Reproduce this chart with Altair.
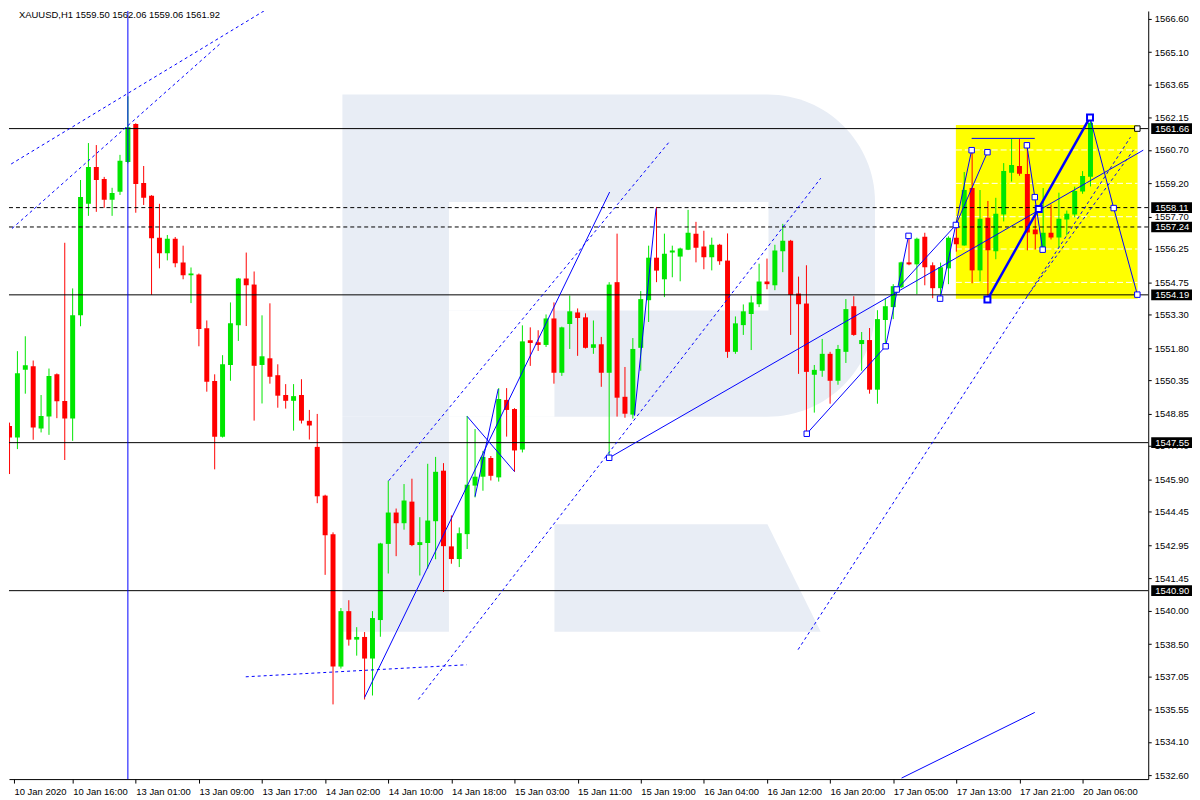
import altair as alt
import pandas as pd

FONT = "Liberation Sans"
FS = 9.5
W, H = 1145, 772
X_MIN, X_MAX = 0.5625, 143.6875
Y_MIN, Y_MAX = 1532.434, 1566.944

# ---------------- candle data (XAUUSD H1) ----------------
opens = [1548.30, 1547.78, 1550.82, 1550.98, 1548.19, 1548.72, 1550.62, 1549.42, 1548.63, 1553.27,
         1558.28, 1559.94, 1559.40, 1558.46, 1558.82, 1560.16, 1561.87, 1559.22, 1558.64, 1556.76,
         1556.06, 1556.71, 1555.64, 1555.07, 1555.10, 1552.69, 1550.32, 1547.82, 1551.04, 1552.83,
         1554.92, 1554.65, 1551.04, 1551.34, 1550.58, 1549.69, 1549.43, 1549.69, 1548.53, 1547.36,
         1545.17, 1543.43, 1537.49, 1539.98, 1538.70, 1538.82, 1537.85, 1539.58, 1543.00, 1544.41,
         1543.93, 1544.90, 1542.95, 1543.04, 1544.02, 1546.29, 1542.89, 1542.32, 1543.44, 1545.62,
         1546.02, 1546.86, 1545.99, 1549.47, 1549.06, 1547.24, 1552.15, 1552.06, 1551.94, 1553.13,
         1550.69, 1552.88, 1553.40, 1553.18, 1551.81, 1551.97, 1550.69, 1554.76, 1549.61, 1548.81,
         1551.81, 1553.95, 1555.86, 1554.89, 1556.09, 1555.91, 1556.22, 1556.94, 1556.36, 1555.88,
         1556.44, 1555.73, 1551.63, 1552.83, 1553.33, 1553.77, 1554.79, 1554.62, 1556.15, 1556.62,
         1554.25, 1553.80, 1550.60, 1550.78, 1551.54, 1550.33, 1551.63, 1553.68, 1551.98, 1552.16,
         1549.93, 1553.06, 1553.64, 1554.53, 1555.65, 1555.56, 1556.80, 1555.52, 1554.49, 1555.38,
         1556.76, 1556.41, 1558.99, 1555.29, 1557.65, 1556.15, 1557.80, 1559.68, 1559.98, 1559.62,
         1557.13, 1556.19, 1556.98, 1556.77, 1557.58, 1557.80, 1558.83, 1559.50]
highs = [1548.45, 1551.66, 1552.33, 1551.24, 1549.69, 1550.88, 1550.66, 1556.53, 1554.48, 1559.35,
         1561.01, 1560.92, 1559.49, 1559.00, 1560.48, 1563.11, 1561.90, 1559.98, 1558.67, 1558.28,
         1556.88, 1556.79, 1556.40, 1555.42, 1555.15, 1553.04, 1550.62, 1551.48, 1553.85, 1554.95,
         1556.09, 1555.24, 1553.27, 1553.81, 1551.07, 1550.18, 1550.18, 1550.40, 1549.02, 1548.84,
         1545.21, 1543.52, 1540.12, 1540.47, 1539.26, 1539.04, 1539.98, 1543.05, 1545.84, 1544.59,
         1545.69, 1545.93, 1544.20, 1546.60, 1546.91, 1546.63, 1544.28, 1543.74, 1548.75, 1548.16,
         1547.18, 1546.95, 1550.00, 1550.00, 1549.10, 1552.82, 1552.73, 1552.60, 1553.31, 1553.85,
         1552.76, 1554.16, 1553.58, 1553.36, 1553.04, 1552.30, 1554.76, 1556.94, 1550.95, 1552.25,
         1554.36, 1556.40, 1558.14, 1556.94, 1556.40, 1556.31, 1558.01, 1557.47, 1557.07, 1556.76,
         1556.48, 1556.95, 1553.22, 1553.76, 1554.16, 1555.59, 1555.82, 1556.44, 1557.38, 1556.66,
         1555.01, 1555.52, 1551.04, 1552.21, 1551.63, 1551.94, 1554.00, 1554.13, 1552.52, 1552.70,
         1553.50, 1554.04, 1554.67, 1555.68, 1556.94, 1556.76, 1556.98, 1555.65, 1555.64, 1556.82,
         1557.33, 1559.71, 1560.68, 1558.90, 1558.41, 1558.55, 1560.11, 1561.19, 1561.19, 1560.96,
         1557.89, 1558.99, 1558.25, 1558.78, 1557.98, 1559.05, 1559.75, 1562.06]
lows = [1546.14, 1547.26, 1549.75, 1547.68, 1548.01, 1547.90, 1548.65, 1546.77, 1547.63, 1552.78,
        1557.74, 1557.92, 1558.10, 1557.74, 1558.68, 1560.10, 1557.88, 1558.23, 1554.19, 1555.38,
        1555.74, 1555.43, 1554.89, 1553.82, 1551.88, 1549.84, 1546.35, 1547.78, 1550.33, 1552.12,
        1552.79, 1548.54, 1549.31, 1550.20, 1549.12, 1549.08, 1548.09, 1548.41, 1547.69, 1544.83,
        1541.61, 1535.79, 1537.40, 1538.43, 1537.98, 1536.01, 1536.19, 1538.83, 1541.67, 1542.45,
        1543.64, 1542.90, 1541.58, 1541.89, 1542.31, 1540.84, 1542.11, 1541.96, 1542.77, 1545.09,
        1545.39, 1545.85, 1545.80, 1547.82, 1546.24, 1547.11, 1551.00, 1551.67, 1551.85, 1550.20,
        1550.55, 1551.76, 1551.45, 1551.78, 1551.54, 1550.06, 1546.88, 1548.72, 1548.67, 1548.63,
        1550.78, 1552.97, 1554.76, 1554.09, 1554.98, 1554.80, 1556.20, 1555.65, 1555.34, 1555.29,
        1555.54, 1551.36, 1551.54, 1552.39, 1551.71, 1553.64, 1554.44, 1554.40, 1555.21, 1552.39,
        1550.64, 1547.96, 1548.90, 1550.51, 1549.30, 1550.15, 1551.13, 1552.35, 1550.78, 1549.75,
        1549.30, 1551.89, 1553.10, 1554.49, 1555.52, 1554.22, 1554.62, 1554.04, 1554.04, 1554.67,
        1556.13, 1556.40, 1554.71, 1554.80, 1554.00, 1555.79, 1557.49, 1559.28, 1559.54, 1556.19,
        1556.23, 1556.15, 1556.68, 1556.32, 1556.86, 1557.67, 1558.73, 1559.06]
closes = [1547.78, 1550.67, 1551.03, 1548.23, 1548.75, 1550.54, 1549.41, 1548.63, 1553.27, 1558.59,
          1559.94, 1559.35, 1558.46, 1558.77, 1560.21, 1561.72, 1559.17, 1558.55, 1556.73, 1556.06,
          1556.71, 1555.61, 1555.07, 1555.15, 1552.66, 1550.29, 1547.82, 1551.07, 1552.91, 1554.92,
          1554.62, 1551.00, 1551.43, 1550.51, 1549.66, 1549.43, 1549.64, 1548.54, 1548.32, 1545.14,
          1543.39, 1537.49, 1539.98, 1538.70, 1538.82, 1537.85, 1539.67, 1543.02, 1544.41, 1543.93,
          1544.95, 1542.95, 1543.08, 1544.05, 1546.24, 1542.90, 1542.32, 1543.48, 1545.66, 1546.02,
          1546.91, 1546.06, 1549.51, 1549.02, 1547.20, 1552.10, 1552.03, 1551.94, 1553.13, 1550.69,
          1552.73, 1553.45, 1553.15, 1551.81, 1551.97, 1550.69, 1554.65, 1549.57, 1548.85, 1551.76,
          1554.00, 1555.86, 1555.28, 1556.04, 1556.18, 1556.27, 1556.98, 1556.31, 1555.88, 1556.44,
          1555.70, 1551.63, 1552.91, 1553.45, 1553.85, 1554.79, 1554.67, 1556.18, 1556.62, 1554.19,
          1553.77, 1550.73, 1550.82, 1551.54, 1550.33, 1551.76, 1553.55, 1552.39, 1552.16, 1549.93,
          1553.10, 1553.68, 1554.58, 1555.65, 1555.56, 1556.71, 1555.43, 1554.49, 1555.43, 1556.76,
          1556.46, 1558.90, 1555.29, 1557.61, 1556.19, 1557.83, 1559.75, 1560.02, 1559.63, 1556.99,
          1556.91, 1556.98, 1556.77, 1557.61, 1557.83, 1558.86, 1559.53, 1561.92]

# ---------------- axes ----------------
x_tick_bars = [0, 8, 16, 24, 32, 40, 48, 56, 64, 72, 80, 88, 96, 104, 112, 120, 128, 136]
x_tick_labels = ["10 Jan 2020", "10 Jan 16:00", "13 Jan 01:00", "13 Jan 09:00", "13 Jan 17:00",
                 "14 Jan 02:00", "14 Jan 10:00", "14 Jan 18:00", "15 Jan 03:00", "15 Jan 11:00",
                 "15 Jan 19:00", "16 Jan 04:00", "16 Jan 12:00", "16 Jan 20:00", "17 Jan 05:00",
                 "17 Jan 13:00", "17 Jan 21:00", "20 Jan 06:00"]
y_tick_values = [1566.60, 1565.10, 1563.65, 1562.15, 1560.70, 1559.20, 1557.70, 1556.25, 1554.75,
                 1553.30, 1551.80, 1550.35, 1548.85, 1547.40, 1545.90, 1544.45, 1542.95, 1541.45,
                 1540.00, 1538.50, 1537.05, 1535.55, 1534.10, 1532.60]

# ---------------- drawn objects ----------------
solid_levels = [1561.66, 1554.19, 1547.55, 1540.90]
dashed_levels = [1558.11, 1557.24]
tag_levels = [1561.66, 1558.11, 1557.24, 1554.19, 1547.55, 1540.90]
yellow_box = {"i0": 119.94, "i1": 142.97, "p0": 1554.01, "p1": 1561.82}
vertical_bar = 15

dashed_lines = [
    [(-0.44, 1559.93), (33.06, 1567.12)],
    [(0.31, 1557.17), (26.81, 1565.51)],
    [(29.94, 1537.03), (57.94, 1537.57)],
    [(48.06, 1545.84), (83.56, 1561.04)],
    [(51.81, 1536.01), (102.81, 1559.43)],
    [(99.94, 1538.25), (142.06, 1561.27)],
    [(128.94, 1554.11), (142.44, 1560.69)],
]
solid_lines = [
    [(45.0, 1536.10), (76.06, 1558.81)],
    [(76.0, 1546.87), (143.69, 1560.69)],
    [(58.0, 1548.73), (64.0, 1546.25)],
    [(59.0, 1545.13), (61.94, 1549.96)],
    [(79.19, 1548.76), (81.94, 1558.07)],
    [(101.04, 1547.95), (111.04, 1551.88), (113.94, 1556.84)],
    [(112.44, 1554.43), (119.94, 1557.33), (123.94, 1560.60)],
    [(117.94, 1554.02), (121.94, 1560.69)],
    [(121.94, 1561.22), (129.94, 1561.22)],
    [(128.94, 1560.91), (129.94, 1558.58), (130.94, 1556.22)],
    [(136.94, 1562.16), (139.94, 1558.09), (142.94, 1554.20)],
    [(113.06, 1532.48), (129.94, 1535.43)],
]
thick_lines = [
    [(123.94, 1553.98), (136.94, 1562.16)],
]
square_points = [(76.0, 1546.87), (101.04, 1547.95), (111.04, 1551.88), (113.94, 1556.84),
                 (112.44, 1554.43), (117.94, 1554.02), (119.94, 1557.33), (121.94, 1560.69),
                 (123.94, 1560.60), (128.94, 1560.91), (129.94, 1558.58), (130.94, 1556.22),
                 (139.94, 1558.09), (142.94, 1554.20)]
thick_square_points = [(123.94, 1553.98), (130.44, 1558.05), (136.94, 1562.16)]
black_square_points = [(142.94, 1561.66)]

# background watermark ("R") pieces, in bar / price units
wm_bowl = {"i0": 42.19, "i1": 109.69, "p0": 1548.71, "p1": 1563.19}
wm_holes = [{"i0": 55.69, "i1": 96.19, "p0": 1553.49, "p1": 1558.36},
            {"i0": 55.69, "i1": 69.06, "p0": 1548.71, "p1": 1553.49}]
wm_stem = {"i0": 42.19, "i1": 55.69, "p0": 1539.05, "p1": 1548.71}
wm_leg_i = [69.06, 96.06, 102.81]
wm_leg_top = [1543.88, 1543.88, 1539.05]
wm_leg_bottom = 1539.05

header = "XAUUSD,H1  1559.50 1562.06 1559.06 1561.92"

# ---------------- build ----------------
GREEN = "#00E600"
RED = "#FF0000"
BLUE = "#0000FF"
WM = "#E8EDF5"

xs = alt.Scale(domain=[X_MIN, X_MAX], nice=False, zero=False)
ys = alt.Scale(domain=[Y_MIN, Y_MAX], nice=False, zero=False)

label_arr = "[" + ",".join("'" + s + "'" for s in x_tick_labels) + "]"
x_axis = alt.Axis(orient="bottom", title=None, grid=False,
                  values=[max(v, X_MIN) for v in x_tick_bars],
                  labelExpr=label_arr + "[round(datum.value/8)]",
                  labelAlign="left", labelBaseline="top", labelPadding=3, labelFlush=False,
                  labelOverlap=False, tickSize=4, tickColor="black", domainColor="black",
                  labelColor="black", labelFont=FONT, labelFontSize=FS)
y_axis = alt.Axis(orient="right", title=None, grid=False, values=y_tick_values, format=".2f",
                  labelPadding=3, labelOverlap=False, labelFlush=False, tickSize=3,
                  tickColor="black", domainColor="black", labelColor="black",
                  labelFont=FONT, labelFontSize=FS)


def X(f):
    return alt.X(f + ":Q", scale=xs, axis=x_axis)


def Y(f):
    return alt.Y(f + ":Q", scale=ys, axis=y_axis)


candles = pd.DataFrame({"i": list(range(len(opens))), "o": opens, "h": highs, "l": lows, "c": closes})
candles["dir"] = ["up" if c > o else "down" for o, c in zip(opens, closes)]
col = alt.Color("dir:N", scale=alt.Scale(domain=["up", "down"], range=[GREEN, RED]), legend=None)

wicks = alt.Chart(candles).mark_rule(strokeWidth=1, clip=True).encode(
    x=X("i"), y=Y("l"), y2="h", color=col)
bodies = alt.Chart(candles).mark_bar(size=5, clip=True).encode(
    x=X("i"), y=Y("o"), y2="c", color=col)

bowl = alt.Chart(pd.DataFrame([wm_bowl])).mark_rect(
    color=WM, clip=True, cornerRadiusTopRight=108, cornerRadiusBottomRight=108).encode(
    x=X("i0"), x2="i1", y=Y("p0"), y2="p1")
holes = alt.Chart(pd.DataFrame(wm_holes)).mark_rect(color="white", clip=True).encode(
    x=X("i0"), x2="i1", y=Y("p0"), y2="p1")
stem = alt.Chart(pd.DataFrame([wm_stem])).mark_rect(color=WM, clip=True).encode(
    x=X("i0"), x2="i1", y=Y("p0"), y2="p1")
leg = alt.Chart(pd.DataFrame({"i": wm_leg_i, "t": wm_leg_top,
                              "b": [wm_leg_bottom] * len(wm_leg_i)})).mark_area(
    color=WM, clip=True, opacity=1).encode(x=X("i"), y=Y("t"), y2="b")

yellow = alt.Chart(pd.DataFrame([yellow_box])).mark_rect(color="#FFFF00", clip=True).encode(
    x=X("i0"), x2="i1", y=Y("p0"), y2="p1")
grid_vals = [v for v in y_tick_values if yellow_box["p0"] < v < yellow_box["p1"]]
ygrid = alt.Chart(pd.DataFrame({"p": grid_vals, "i0": yellow_box["i0"], "i1": yellow_box["i1"]})).mark_rule(
    color="white", strokeDash=[6, 3], strokeWidth=1, clip=True).encode(
    x=X("i0"), x2="i1", y=Y("p"))

hsolid = alt.Chart(pd.DataFrame({"p": solid_levels})).mark_rule(
    color="black", strokeWidth=1).encode(y=Y("p"))
hdash = alt.Chart(pd.DataFrame({"p": dashed_levels})).mark_rule(
    color="black", strokeWidth=1, strokeDash=[4, 3]).encode(y=Y("p"))
vline = alt.Chart(pd.DataFrame({"i": [vertical_bar]})).mark_rule(
    color=BLUE, strokeWidth=1).encode(x=X("i"))


def lines_df(lines):
    rows = []
    for n, pts in enumerate(lines):
        for j, (a, b) in enumerate(pts):
            rows.append({"id": n, "ord": j, "i": a, "p": b})
    return pd.DataFrame(rows)


ldash = alt.Chart(lines_df(dashed_lines)).mark_line(
    color=BLUE, strokeWidth=1, strokeDash=[3, 3], clip=True).encode(
    x=X("i"), y=Y("p"), detail="id:N", order="ord:Q")
lsolid = alt.Chart(lines_df(solid_lines)).mark_line(
    color=BLUE, strokeWidth=1, clip=True).encode(
    x=X("i"), y=Y("p"), detail="id:N", order="ord:Q")
lthick = alt.Chart(lines_df(thick_lines)).mark_line(
    color=BLUE, strokeWidth=2.5, clip=True).encode(
    x=X("i"), y=Y("p"), detail="id:N", order="ord:Q")

sq = alt.Chart(pd.DataFrame(square_points, columns=["i", "p"])).mark_point(
    shape="square", size=30, filled=True, fill="white", stroke=BLUE, strokeWidth=1, opacity=1).encode(
    x=X("i"), y=Y("p"))
sq2 = alt.Chart(pd.DataFrame(thick_square_points, columns=["i", "p"])).mark_point(
    shape="square", size=36, filled=True, fill="white", stroke=BLUE, strokeWidth=2, opacity=1).encode(
    x=X("i"), y=Y("p"))
sq3 = alt.Chart(pd.DataFrame(black_square_points, columns=["i", "p"])).mark_point(
    shape="square", size=30, filled=True, fill="white", stroke="black", strokeWidth=1, opacity=1).encode(
    x=X("i"), y=Y("p"))

tags = pd.DataFrame({"p": tag_levels})
tags["lbl"] = [f"{v:.2f}" for v in tag_levels]
tags["lo"] = tags["p"] - 0.24
tags["hi"] = tags["p"] + 0.24
tag_box = alt.Chart(tags).mark_rect(color="black").encode(
    x=alt.value(W + 3), x2=alt.value(W + 44), y=Y("lo"), y2="hi")
tag_txt = alt.Chart(tags).mark_text(
    color="white", align="left", baseline="middle", font=FONT, fontSize=FS).encode(
    x=alt.value(W + 7), y=Y("p"), text="lbl:N")

head = alt.Chart(pd.DataFrame({"t": [header]})).mark_text(
    align="left", baseline="middle", font=FONT, fontSize=FS, color="black").encode(
    x=alt.value(10), y=alt.value(4), text="t:N")

chart = alt.layer(
    bowl, holes, stem, leg, yellow, ygrid,
    wicks, bodies,
    hsolid, hdash, vline, ldash, lsolid, lthick,
    sq, sq2, sq3, tag_box, tag_txt, head
).properties(
    width=W, height=H, padding=0, background="white",
    autosize=alt.AutoSizeParams(type="pad")
).configure_view(stroke=None)

chart.save("out.html", embed_options={"renderer": "svg", "actions": False})
